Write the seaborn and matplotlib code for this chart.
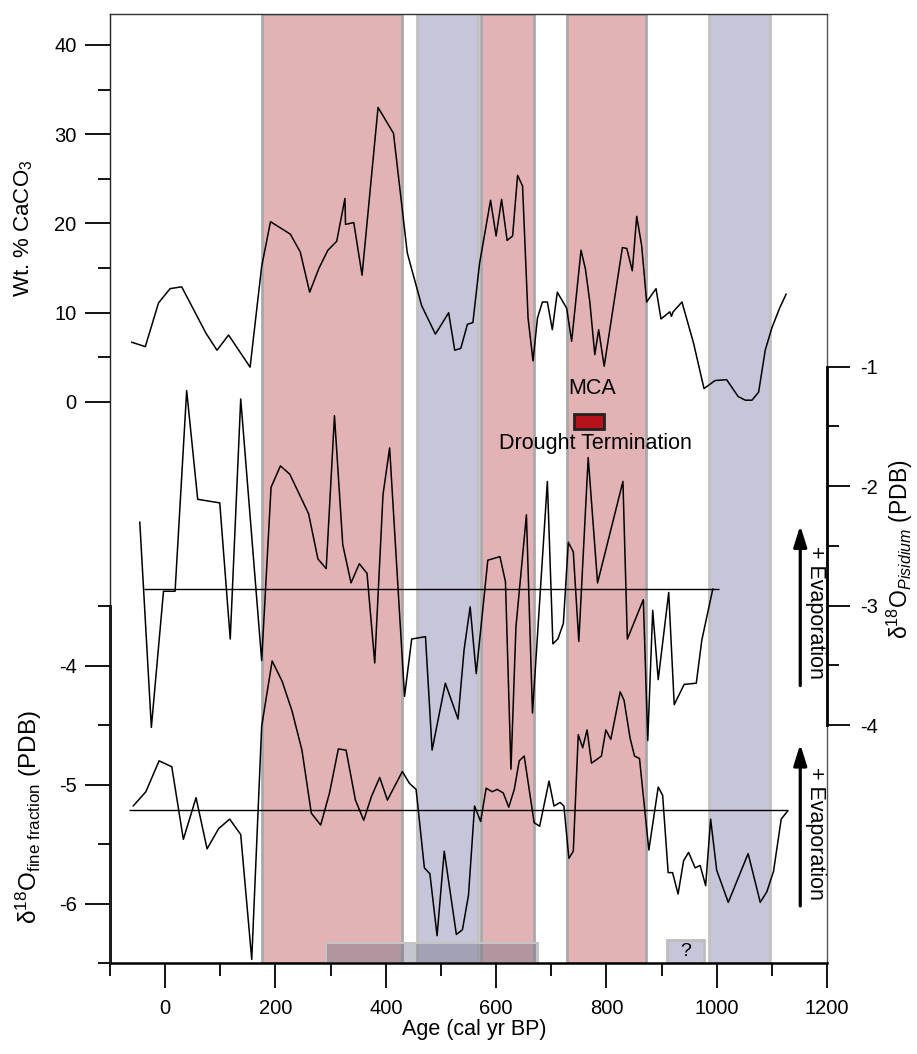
import numpy as np
import pandas as pd
import matplotlib
matplotlib.use("Agg")
import matplotlib.pyplot as plt
from matplotlib.patches import Rectangle
import seaborn as sns

# ---- data ----
caco3_age = [-61, -36, -12, 9, 30, 74, 94, 115, 154, 175, 191, 227, 245, 262, 279,
             295, 311, 326, 327, 342, 357, 386, 414, 439, 465, 490, 514, 525, 536, 548,
             558, 570, 590, 600, 610, 620, 630, 639, 648, 658, 667, 675, 684, 693, 702,
             711, 728, 737, 746, 754, 762, 770, 779, 786, 796, 829, 837, 847, 855, 864,
             873, 890, 899, 915, 918, 921, 937, 958, 977, 997, 1018, 1039, 1052, 1064, 1076,
             1088, 1100, 1114, 1126]
caco3_val = [6.7, 6.2, 11.1, 12.7, 12.9, 7.7, 5.8, 7.5, 3.9, 15.2, 20.2, 18.8, 16.8, 12.3, 15.0,
             17.0, 18.0, 22.8, 19.9, 20.1, 14.2, 33.0, 30.1, 16.7, 10.8, 7.6, 10.0, 5.8, 6.0, 8.7,
             8.9, 15.5, 22.6, 18.6, 22.7, 18.1, 18.6, 25.4, 24.2, 9.4, 4.6, 9.4, 11.2, 11.2, 8.1,
             12.3, 10.5, 6.8, 12.2, 17.0, 14.9, 11.2, 5.3, 8.1, 4.0, 17.3, 17.2, 14.7, 20.8, 17.5,
             11.2, 12.7, 9.3, 10.1, 9.6, 10.1, 11.2, 6.6, 1.5, 2.4, 2.5, 0.6, 0.2, 0.2, 1.1,
             5.8, 8.3, 10.5, 12.1]

pis_age = [-46, -25, -3, 18, 39, 59, 99, 118, 137, 175, 192, 209, 226, 260, 277,
           292, 307, 322, 337, 352, 366, 380, 395, 407, 434, 447, 472, 484, 508, 531,
           542, 553, 564, 585, 607, 617, 627, 636, 655, 666, 693, 703, 712, 722, 731,
           740, 750, 767, 784, 830, 838, 867, 875, 884, 894, 913, 923, 941, 963, 973, 993]
pis_val = [-2.30, -4.02, -2.88, -2.88, -1.20, -2.11, -2.14, -3.28, -1.27, -3.46, -2.01, -1.83, -1.90, -2.23, -2.61,
           -2.69, -1.41, -2.49, -2.81, -2.65, -2.73, -3.48, -2.07, -1.68, -3.76, -3.28, -3.26, -4.21, -3.65, -3.95,
           -3.37, -3.01, -3.57, -2.62, -2.59, -2.80, -4.37, -3.18, -2.24, -3.90, -1.96, -3.32, -3.28, -3.15, -2.47,
           -2.55, -3.30, -1.76, -2.81, -1.96, -3.28, -2.95, -4.13, -3.04, -3.62, -2.89, -3.83, -3.66, -3.65, -3.29, -2.86]

ff_age = [-58, -35, -11, 12, 33, 56, 76, 97, 117, 137, 157, 175, 194, 212, 230,
          248, 265, 282, 298, 314, 328, 345, 360, 374, 389, 403, 430, 443, 455, 470,
          480, 493, 506, 528, 539, 550, 561, 572, 582, 593, 602, 613, 623, 633, 642,
          651, 669, 679, 696, 705, 716, 723, 732, 740, 749, 757, 765, 773, 791, 799,
          808, 825, 832, 843, 851, 860, 877, 894, 902, 912, 920, 930, 940, 949, 961,
          970, 980, 989, 1000, 1021, 1057, 1079, 1091, 1103, 1117, 1129]
ff_val = [-5.18, -5.06, -4.80, -4.85, -5.46, -5.11, -5.54, -5.37, -5.29, -5.42, -6.47, -4.51, -3.96, -4.13, -4.38,
          -4.71, -5.24, -5.34, -5.07, -4.70, -4.71, -5.13, -5.30, -5.10, -4.94, -5.13, -4.89, -4.99, -5.04, -5.70,
          -5.75, -6.27, -5.56, -6.26, -6.22, -5.93, -5.18, -5.31, -5.03, -5.06, -5.04, -5.07, -5.19, -5.04, -4.80,
          -4.76, -5.32, -5.35, -4.97, -5.18, -5.15, -5.18, -5.62, -5.56, -4.58, -4.69, -4.54, -4.82, -4.76, -4.54,
          -4.62, -4.22, -4.29, -4.61, -4.76, -4.78, -5.55, -5.02, -5.09, -5.74, -5.74, -5.92, -5.64, -5.57, -5.70,
          -5.68, -5.85, -5.29, -5.72, -5.99, -5.58, -5.99, -5.90, -5.73, -5.29, -5.22]

pis_mean, pis_mean_span = -2.864, (-39, 1005)
ff_mean, ff_mean_span = -5.216, (-65, 1130)

warm_bands = [(176, 430), (572, 668), (729, 871)]
cool_bands = [(457, 567), (986, 1096)]

mca_span = (742, 796)
mca_y = (-1.52, -1.394)
lia_bar = (291, 676)
q_box = (910, 977)

sns.set_style("ticks")
plt.rcParams["font.family"] = ["Liberation Sans", "DejaVu Sans"]
plt.rcParams["mathtext.fontset"] = "custom"
plt.rcParams["mathtext.rm"] = "Liberation Sans"
plt.rcParams["mathtext.it"] = "Liberation Sans:italic"
plt.rcParams["mathtext.bf"] = "Liberation Sans:bold"
plt.rcParams["axes.unicode_minus"] = False
for k in ("text.color", "axes.labelcolor", "xtick.color", "ytick.color"):
    plt.rcParams[k] = "black"

fig = plt.figure(figsize=(9.17, 10.54), dpi=100)
rect = [110 / 917, 91 / 1054, 717 / 917, 949 / 1054]
ax3 = fig.add_axes(rect)                 # fine fraction, bottom-left
ax1 = fig.add_axes(rect, facecolor="none")   # CaCO3, top-left
ax2 = fig.add_axes(rect, facecolor="none")   # Pisidium, right

for a in (ax1, ax2, ax3):
    a.set_xlim(-100, 1200)
ax1.set_ylim(-62.86, 43.47)
ax2.set_ylim(-5.993, 1.954)
ax3.set_ylim(-6.5, 1.48)

# shaded intervals
for lo, hi in warm_bands:
    ax3.axvspan(lo, hi, facecolor="#e3b2b5", edgecolor="#a9a9a9", lw=2, zorder=0)
for lo, hi in cool_bands:
    ax3.axvspan(lo, hi, facecolor="#c7c5d9", edgecolor="#c2c2c2", lw=2, zorder=0)
ax3.add_patch(Rectangle((lia_bar[0], -6.5), lia_bar[1] - lia_bar[0], 0.165,
                        facecolor="#67677e", alpha=0.38, edgecolor="none", zorder=1))
ax3.add_patch(Rectangle((lia_bar[0], -6.5), lia_bar[1] - lia_bar[0], 0.165,
                        facecolor="none", edgecolor="#c4c4c4", lw=1.5, zorder=1))
ax3.add_patch(Rectangle((q_box[0], -6.5), q_box[1] - q_box[0], 0.19,
                        facecolor="#c7c5d9", edgecolor="#bdbdbd", lw=2, zorder=1))
ax3.text(sum(q_box) / 2, -6.40, "?", ha="center", va="center", fontsize=14)

# series
sns.lineplot(x=caco3_age, y=caco3_val, ax=ax1, color="black", lw=1.1, sort=False, estimator=None)
sns.lineplot(x=pis_age, y=pis_val, ax=ax2, color="black", lw=1.1, sort=False, estimator=None)
sns.lineplot(x=ff_age, y=ff_val, ax=ax3, color="black", lw=1.1, sort=False, estimator=None)
ax2.hlines(pis_mean, *pis_mean_span, color="black", lw=1)
ax3.hlines(ff_mean, *ff_mean_span, color="black", lw=1)

# MCA marker
ax2.add_patch(Rectangle((mca_span[0], mca_y[0]), mca_span[1] - mca_span[0], mca_y[1] - mca_y[0],
                        facecolor="#b5121b", edgecolor="#222222", lw=2, zorder=3))
ax2.text(775, -1.18, "MCA", ha="center", va="center", fontsize=15.5)
ax2.text(780, -1.64, "Drought Termination", ha="center", va="center", fontsize=15.5)

# evaporation arrows
arrow = dict(arrowstyle="-|>,head_length=0.7,head_width=0.22", lw=2.3, color="black",
             shrinkA=0, shrinkB=0, mutation_scale=18)
ax2.annotate("", xy=(1151.5, -2.33), xytext=(1151.5, -3.67), arrowprops=arrow, annotation_clip=False)
ax3.annotate("", xy=(1151.5, -4.66), xytext=(1151.5, -6.02), arrowprops=arrow, annotation_clip=False)
ax2.text(1180, -3.06, "+ Evaporation", rotation=270, ha="center", va="center", fontsize=15.5)
ax3.text(1180, -5.41, "+ Evaporation", rotation=270, ha="center", va="center", fontsize=15.5)

# axes styling
tick_kw = dict(direction="out", width=1.3, colors="black", labelsize=14.5)
for a in (ax1, ax2, ax3):
    for s in a.spines.values():
        s.set_visible(False)

ax3.spines["bottom"].set_visible(True)
ax3.spines["bottom"].set_linewidth(1.8)
ax3.spines["bottom"].set_color("black")
ax3.spines["right"].set_visible(True)
ax3.spines["right"].set_linewidth(1.0)
ax3.spines["right"].set_color("#555555")
ax3.spines["left"].set_visible(True)
ax3.spines["left"].set_bounds(-6.5, -3.5)
ax3.spines["left"].set_linewidth(2)
ax3.spines["left"].set_color("black")

ax1.spines["top"].set_visible(True)
ax1.spines["top"].set_linewidth(1.0)
ax1.spines["top"].set_color("#333333")
ax1.spines["left"].set_visible(True)
ax1.spines["left"].set_linewidth(1.0)
ax1.spines["left"].set_color("#222222")

ax2.spines["right"].set_visible(True)
ax2.spines["right"].set_bounds(-4, -1)
ax2.spines["right"].set_linewidth(2)
ax2.spines["right"].set_color("black")

ax3.set_xticks(range(0, 1201, 200))
ax3.set_xticks(range(-100, 1200, 200), minor=True)
ax3.tick_params(axis="x", which="major", length=18, pad=8, **tick_kw)
ax3.tick_params(axis="x", which="minor", length=9, width=1.3, direction="out")
ax3.set_yticks([-6, -5, -4])
ax3.set_yticks([-6.5, -5.5, -4.5, -3.5], minor=True)
ax3.tick_params(axis="y", which="major", length=18, pad=6, **tick_kw)
ax3.tick_params(axis="y", which="minor", length=9, width=1.3, direction="out")

ax1.set_xticks([])
ax1.set_yticks([0, 10, 20, 30, 40])
ax1.set_yticks([5, 15, 25, 35], minor=True)
ax1.tick_params(axis="y", which="major", length=18, pad=6, **tick_kw)
ax1.tick_params(axis="y", which="minor", length=9, width=1.3, direction="out")

ax2.set_xticks([])
ax2.yaxis.tick_right()
ax2.set_yticks([-4, -3, -2, -1])
ax2.set_yticks([-3.5, -2.5, -1.5], minor=True)
ax2.tick_params(axis="y", which="major", length=16.5, pad=7, **tick_kw)
ax2.tick_params(axis="y", which="minor", length=8.5, width=1.3, direction="out")

for a in (ax1, ax2, ax3):
    a.set_xlabel("")
    a.set_ylabel("")

fig.text(474 / 917, 1 - 1030 / 1054, "Age (cal yr BP)", ha="center", va="center", fontsize=15.5)
fig.text(24 / 917, 1 - 228 / 1054, "Wt. % CaCO$_3$", rotation=90, ha="center", va="center", fontsize=16)
fig.text(29 / 917, 1 - 817 / 1054, "δ$^{18}$O$_{\\mathrm{fine\\ fraction}}$ (PDB)",
         rotation=90, ha="center", va="center", fontsize=17.5)
fig.text(900 / 917, 1 - 549 / 1054, "δ$^{18}$O$_{Pisidium}$ (PDB)",
         rotation=90, ha="center", va="center", fontsize=16.5)

fig.savefig("out.png", dpi=100)
